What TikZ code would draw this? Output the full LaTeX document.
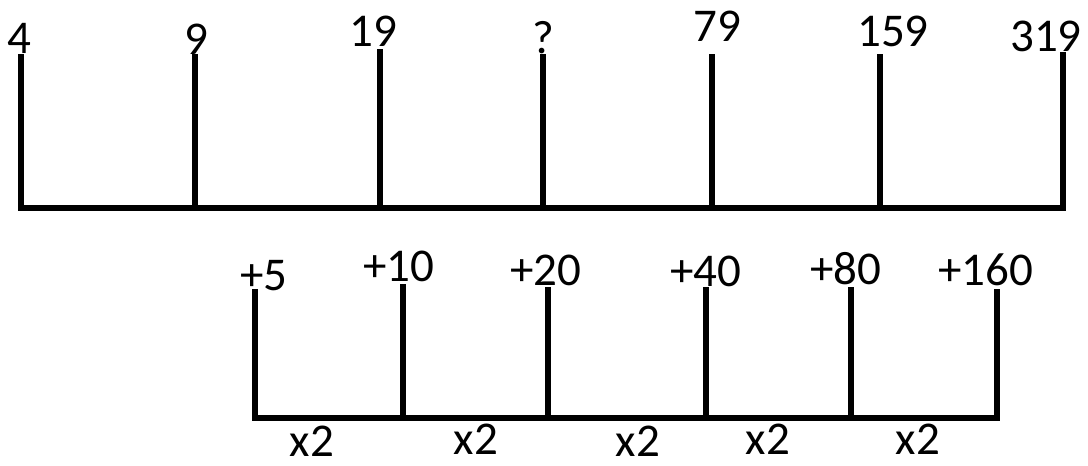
\documentclass[tikz,border=0pt]{standalone}
\usepackage{fontspec}
\setmainfont{Carlito}
\begin{document}
\begin{tikzpicture}[x=1pt,y=-1pt,
  bar/.style={line width=5.5pt, line cap=rect, black},
  lab/.style={inner sep=0pt, font=\fontsize{47}{52}\selectfont}]
\useasboundingbox (0,0) rectangle (1088,466);
% top scale
\foreach \n/\x/\t in {a/21/57, b/195/57, c/380/52, d/543/57, e/712/57, f/880/57, g/1063/55}{
  \coordinate (t\n) at (\x,\t);
  \coordinate (u\n) at (\x,208);
}
\draw[bar] (ua) -- (ug);
\foreach \n in {a,b,c,d,e,f,g}{\draw[bar] (t\n) -- (u\n);}
\node[lab] (la) at (19,38) {4};
\node[lab] (lb) at (196,39) {9};
\node[lab] (lc) at (373,31) {19};
\node[lab] (ld) at (543,38) {?};
\node[lab] (le) at (717,26) {79};
\node[lab] (lf) at (893,31) {159};
\node[lab] (lg) at (1046,36) {319};
% bottom scale
\foreach \n/\x/\t in {a/255/292, b/403/287, c/548/290, d/706/290, e/851/290, f/997/292}{
  \coordinate (s\n) at (\x,\t);
  \coordinate (v\n) at (\x,418);
}
\draw[bar] (va) -- (vf);
\foreach \n in {a,b,c,d,e,f}{\draw[bar] (s\n) -- (v\n);}
\node[lab] (pa) at (264,276) {+5};
\node[lab] (pb) at (399,266) {+10};
\node[lab] (pc) at (546,270) {+20};
\node[lab] (pd) at (706,271) {+40};
\node[lab] (pe) at (846,269) {+80};
\node[lab] (pf) at (986,270) {+160};
\node[lab] (xa) at (312,441) {x2};
\node[lab] (xb) at (476,439) {x2};
\node[lab] (xc) at (638,441) {x2};
\node[lab] (xd) at (768,439) {x2};
\node[lab] (xe) at (918,439) {x2};
\end{tikzpicture}
\end{document}
